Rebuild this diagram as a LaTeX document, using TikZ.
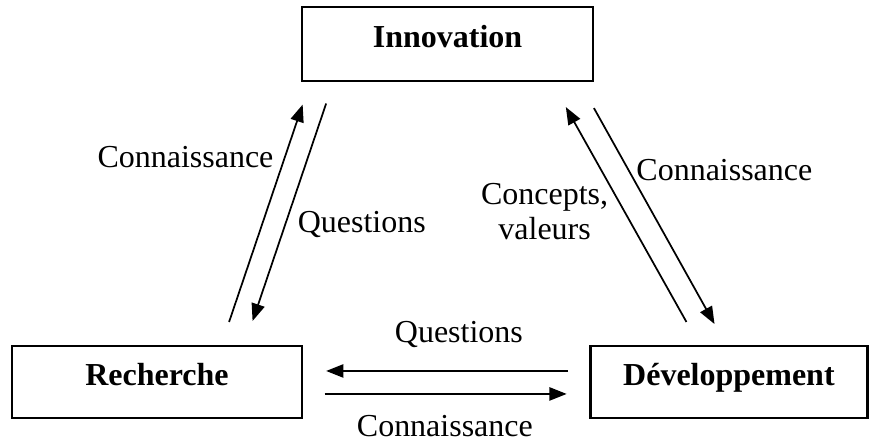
\documentclass[tikz,border=0pt]{standalone}
\usepackage{fontspec}
\setmainfont{Liberation Serif}
\usetikzlibrary{arrows.meta}
\begin{document}
\begin{tikzpicture}[font = \fontsize{12pt}{13pt}\selectfont,
	boite/.style = {draw, line width = 0.9pt, inner sep = 0pt, text depth = 5.5pt, minimum height = 0.95cm, font = \fontsize{12pt}{13pt}\selectfont\bfseries},
	fleche/.style = {line width = 0.65pt, -{Triangle[length = 6.5pt, width = 5pt]}},
	texte/.style = {inner sep = 0pt, anchor = base}]
	\useasboundingbox (0,0) rectangle (11.47,5.84);

	% les trois boites
	\node [boite, minimum width = 3.84cm, minimum height = 0.975cm] (inno) at (5.90,5.26) {Innovation};
	\node [boite, minimum width = 3.82cm] (rech) at (2.07,0.804) {Recherche};
	\node [boite, minimum width = 3.65cm] (dev) at (9.61,0.804) {Développement};

	% extremites des fleches
	\coordinate (c1s) at (3.02,1.595);  \coordinate (c1e) at (3.99,4.461);
	\coordinate (q1s) at (4.30,4.475);  \coordinate (q1e) at (3.33,1.608);
	\coordinate (v1s) at (9.05,1.595);  \coordinate (v1e) at (7.46,4.428);
	\coordinate (c2s) at (7.83,4.415);  \coordinate (c2e) at (9.42,1.568);
	\coordinate (q2s) at (7.49,0.949);  \coordinate (q2e) at (4.30,0.949);
	\coordinate (c3s) at (4.28,0.646);  \coordinate (c3e) at (7.47,0.646);

	\draw [fleche] (c1s) -- (c1e);
	\draw [fleche] (q1s) -- (q1e);
	\draw [fleche] (v1s) -- (v1e);
	\draw [fleche] (c2s) -- (c2e);
	\draw [fleche] (q2s) -- (q2e);
	\draw [fleche] (c3s) -- (c3e);

	% les etiquettes
	\node [texte] (lc1) at (2.445,3.625) {Connaissance};
	\node [texte] (lq1) at (4.77,2.781) {Questions};
	\node [texte] (lc2) at (9.55,3.466) {Connaissance};
	\node [inner sep = 0pt, anchor = north, align = center] (lv1) at (7.18,3.427) {Concepts,\\valeurs};
	\node [texte] (lq2) at (6.05,1.318) {Questions};
	\node [texte] (lc3) at (5.865,0.079) {Connaissance};
\end{tikzpicture}
\end{document}
